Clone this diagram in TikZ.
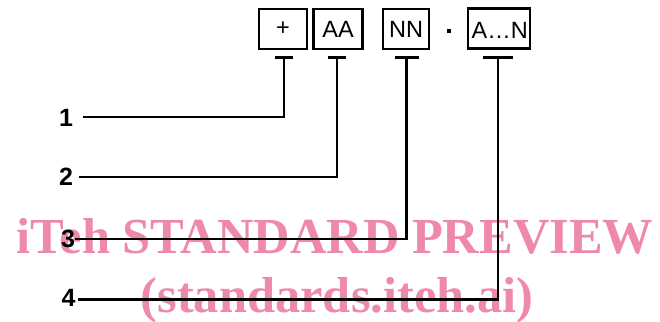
\documentclass[tikz,border=0pt]{standalone}
\usepackage{fontspec}
\setmainfont{Liberation Sans}
\newfontfamily\wmfont{Liberation Serif}
\definecolor{wmpink}{RGB}{238,137,170}
\begin{document}
\begin{tikzpicture}[x=1pt,y=-1pt,
  box/.style={draw,line width=2.9pt,inner sep=0pt,minimum height=40pt,font=\fontsize{23.5}{23.5}\selectfont},
  boxtext/.style={inner sep=0pt,font=\fontsize{23.5}{23.5}\selectfont},
  lbl/.style={font=\bfseries\fontsize{25}{25}\selectfont,inner sep=0pt},
  conn/.style={line width=2.8pt},
  tbar/.style={line width=3pt},
  wm/.style={text=wmpink,font=\wmfont\bfseries\fontsize{50.5}{50.5}\selectfont,inner sep=0pt,anchor=base}]
\useasboundingbox (0,0) rectangle (660,321);
% watermark
\node[wm] (w1) at (335,253) {iTeh STANDARD PREVIEW};
\node[wm] (w2) at (337,312) {(standards.iteh.ai)};
% boxes
\node[box,minimum width=48pt] (b1) at (283,29) {+};
\node[box,minimum width=49pt] (b2) at (338,29) {AA};
\node[box,minimum width=46pt] (b3) at (406,29) {NN};
\node[fill,minimum size=4.5pt,inner sep=0pt] (dot) at (449,31) {};
\node[box,minimum width=62pt] (b4) at (499,28.5) {};
\node[boxtext,anchor=west] (b4t) at (471.5,30) {A…N};
% T bars
\coordinate (t1) at (284,57.5);
\coordinate (t2) at (337,57.5);
\coordinate (t3) at (406.5,57.5);
\coordinate (t4) at (498,57.5);
\draw[tbar] ([xshift=-9pt]t1) -- ([xshift=9pt]t1);
\draw[tbar] ([xshift=-9pt]t2) -- ([xshift=9pt]t2);
\draw[tbar] ([xshift=-12pt]t3) -- ([xshift=12pt]t3);
\draw[tbar] ([xshift=-15pt]t4) -- ([xshift=15pt]t4);
% labels
\node[lbl] (l1) at (66,117.5) {1};
\node[lbl] (l2) at (66,177) {2};
\node[lbl] (l3) at (68,239) {3};
\node[lbl] (l4) at (68.5,298) {4};
\coordinate (s1) at (83,117);
\coordinate (s2) at (79,177);
\coordinate (s3) at (75,239);
\coordinate (s4) at (78,299.5);
% connectors
\draw[conn] (s1) -- (s1 -| t1) -- (t1);
\draw[conn] (s2) -- (s2 -| t2) -- (t2);
\draw[conn] (s3) -- (s3 -| t3) -- (t3);
\draw[conn] (s4) -- (s4 -| t4) -- (t4);
\end{tikzpicture}
\end{document}
